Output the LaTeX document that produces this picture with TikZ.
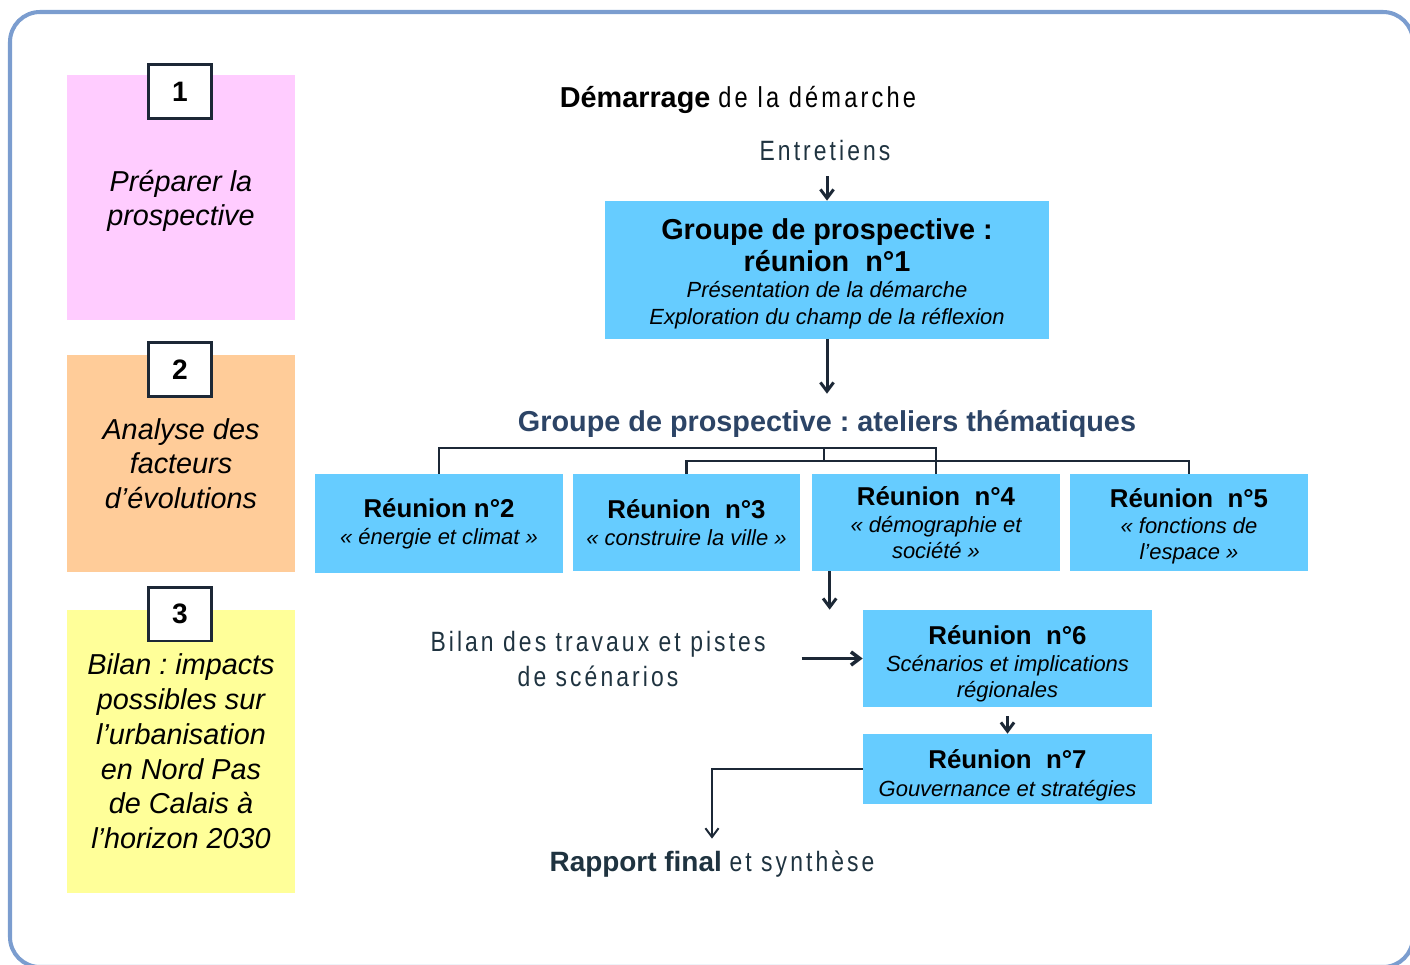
\documentclass[tikz,border=0pt]{standalone}
\usepackage{fontspec}
\setmainfont{Liberation Sans}
\newfontfamily\spaced{Liberation Sans}[FakeStretch=0.82,LetterSpace=11]
\usetikzlibrary{positioning,arrows,arrows.meta}
\frenchspacing

\definecolor{boxblue}{HTML}{66CCFF}
\definecolor{navy}{HTML}{1C2836}
\definecolor{slate}{HTML}{1F3340}
\definecolor{titleblue}{HTML}{2C4466}
\definecolor{frameblue}{HTML}{7B9DCF}
\definecolor{pinkbg}{HTML}{FFCCFF}
\definecolor{orangebg}{HTML}{FFCC99}
\definecolor{yellowbg}{HTML}{FFFF99}

\begin{document}
\begin{tikzpicture}[x=0.02cm, y=-0.02cm, >={Straight Barb[length=5pt,width=7.5pt]},
  stage/.style={minimum width=4.56cm, inner sep=0, align=center,
    font=\fontsize{16.4}{19.8}\selectfont\itshape},
  numbox/.style={draw=navy, line width=1.7pt, fill=white, minimum width=1.26cm,
    minimum height=1.08cm, inner sep=0, font=\fontsize{16}{19}\selectfont\bfseries},
  reunion/.style={fill=boxblue, inner sep=0, align=center,
    font=\fontsize{12.5}{14.7}\selectfont},
  notetext/.style={text=slate, align=center, font=\fontsize{15.9}{19.8}\selectfont\spaced},
  flow/.style={->, draw=navy, line width=1.7pt},
  forkline/.style={draw=navy, line width=1.4pt}]

  \useasboundingbox (0,0) rectangle (1410,964);
  \draw[frameblue, line width=2.3pt, rounded corners=0.6cm] (10,12) rectangle (1413,967);

  % the three stages on the left
  \node[stage, fill=pinkbg, minimum height=4.9cm] (prep) at (181,197.5) {\rule{0pt}{16pt}Préparer la\\prospective};
  \node[stage, fill=orangebg, minimum height=4.34cm] (analyse) at (181,463.5) {Analyse des\\facteurs\\d’évolutions};
  \node[stage, fill=yellowbg, minimum height=5.66cm] (bilanfin) at (181,751.5)
    {Bilan : impacts\\possibles sur\\l’urbanisation\\en Nord Pas\\de Calais à\\l’horizon 2030};
  \node[numbox] (n1) at (180,91.5) {1};
  \node[numbox] (n2) at (180,369.5) {2};
  \node[numbox] (n3) at (180,614) {3};

  % steps of the approach
  \node[text=black, font=\fontsize{16.4}{19.8}\selectfont] (demarrage) at (738,100)
    {\textbf{Démarrage} {\spaced de la démarche}};
  \node[notetext] (entretiens) at (825,151) {Entretiens};
  \node[reunion, minimum width=8.88cm, minimum height=2.76cm] (g1) at (827,270)
    {{\fontsize{16.4}{18.7}\selectfont\bfseries\rule{0pt}{16pt}Groupe de prospective :}\\[1.7pt]
     {\fontsize{16.4}{18.7}\selectfont\bfseries réunion\ \ n°1}\\
     {\itshape Présentation de la démarche}\\[0.6pt]
     {\itshape Exploration du champ de la réflexion}};
  \node[text=titleblue, font=\fontsize{16.4}{19.8}\selectfont\bfseries] (titre) at (827,424)
    {Groupe de prospective : ateliers thématiques};

  \node[reunion, minimum width=4.96cm, minimum height=1.98cm] (r2) at (439,523.5)
    {{\fontsize{14.7}{17}\selectfont\bfseries Réunion n°2}\\[0.6pt]
     {\itshape « énergie et climat »}};
  \node[reunion, minimum width=4.54cm, minimum height=1.94cm] (r3) at (686.5,522.5)
    {{\fontsize{14.7}{17}\selectfont\bfseries Réunion\ \ n°3}\\[0.6pt]
     {\itshape « construire la ville »}};
  \node[reunion, minimum width=4.96cm, minimum height=1.94cm] (r4) at (936,522.5)
    {{\fontsize{14.7}{17}\selectfont\bfseries Réunion\ \ n°4}\\[0.6pt]
     {\itshape « démographie et}\\{\itshape société »}};
  \node[reunion, minimum width=4.76cm, minimum height=1.94cm] (r5) at (1189,522.5)
    {{\fontsize{14.7}{17}\selectfont\bfseries\rule{0pt}{15pt}Réunion\ \ n°5}\\[0.6pt]
     {\itshape « fonctions de}\\{\itshape l’espace »}};

  \node[notetext] (bilan) at (598,659) {Bilan des travaux et pistes\\de scénarios};
  \node[reunion, minimum width=5.78cm, minimum height=1.94cm] (r6) at (1007.5,658.5)
    {{\fontsize{14.7}{17}\selectfont\bfseries\rule{0pt}{16.5pt}Réunion\ \ n°6}\\[0.6pt]
     {\itshape Scénarios et implications}\\{\itshape régionales}};
  \node[reunion, minimum width=5.78cm, minimum height=1.4cm] (r7) at (1007.5,769)
    {{\fontsize{14.7}{17}\selectfont\bfseries\rule{0pt}{18pt}Réunion\ \ n°7}\\[1.5pt]
     {\itshape Gouvernance et stratégies}};
  \node[text=slate, font=\fontsize{15.9}{19.8}\selectfont] (rapport) at (712,864)
    {\textbf{Rapport final} {\spaced et synthèse}};

  % connectors
  \coordinate (hi) at (824,448);
  \coordinate (lo) at (824,461);
  \coordinate (r4out) at ([xshift=0.36cm]r4.south west);

  \draw[flow, shorten <=5pt] (g1.north |- entretiens.south) -- (g1.north);
  \draw[flow, shorten >=6pt] (g1) -- (titre);
  \draw[forkline] (r2.north) |- (hi) -| (r4.north);
  \draw[forkline] (r3.north) |- (lo) -| (r5.north);
  \draw[forkline] (hi) -- (lo);
  \draw[flow] (r4out) -- (r4out |- r6.north);
  \draw[flow, line width=2pt, shorten <=0.6cm] (bilan.east |- r6.west) -- (r6.west);
  \draw[flow, shorten <=0.18cm] (r6) -- (r7);
  \draw[flow, line width=1.1pt, shorten >=0.12cm] (r7.west) -| (rapport.north);
\end{tikzpicture}
\end{document}
